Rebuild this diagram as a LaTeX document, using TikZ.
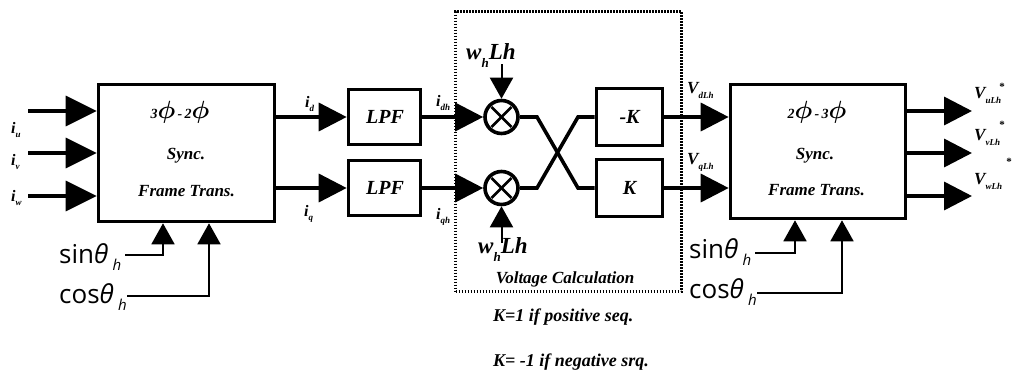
\documentclass[tikz,border=0pt]{standalone}
\usepackage{fontspec}
\setmainfont{Liberation Serif}
\newfontfamily\sansf{Open Sans}
\usepackage{bm}
\usetikzlibrary{arrows.meta,calc}
\newcommand{\sbx}[1]{\raisebox{-0.3em}{\fontsize{9}{9}\selectfont #1}}
\newcommand{\wsb}[1]{\raisebox{-0.35em}{\fontsize{13}{13}\selectfont #1}}
\newcommand{\thh}{\raisebox{-7pt}{\fontsize{15}{15}\selectfont\textit{h}}}
\begin{document}
\begin{tikzpicture}[x=1pt,y=-1pt,
  thk/.style={line width=3.6pt},
  thn/.style={line width=1.8pt},
  bigarr/.style={-{Triangle[length=31pt,width=30pt]}},
  midarr/.style={-{Triangle[length=28pt,width=28pt]}},
  smarr/.style={-{Triangle[length=21pt,width=23pt]}},
  blk/.style={draw,line width=3.6pt,fill=white,inner sep=0pt},
  lbl/.style={font=\bfseries\itshape\fontsize{16}{16}\selectfont,inner sep=0pt},
  vlbl/.style={font=\bfseries\itshape\fontsize{17}{17}\selectfont,inner sep=0pt},
  boxtxt/.style={font=\bfseries\itshape\fontsize{17}{17}\selectfont,inner sep=0pt},
  bigtxt/.style={font=\bfseries\itshape\fontsize{20}{20}\selectfont,inner sep=0pt},
  wtxt/.style={font=\bfseries\itshape\fontsize{23}{23}\selectfont,inner sep=0pt},
  notetxt/.style={font=\bfseries\itshape\fontsize{18}{18}\selectfont,inner sep=0pt},
  trig/.style={font=\sansf\fontsize{26}{26}\selectfont,inner sep=0pt},
  star/.style={font=\bfseries\fontsize{11}{11}\selectfont,inner sep=0pt}
]
\useasboundingbox (0,0) rectangle (1013,373);

% dotted voltage calculation frame
\node[draw,line width=2.6pt,dash pattern=on 1.6pt off 1.4pt,minimum width=226pt,minimum height=280pt,inner sep=0pt] (VC) at (568.5,151.5) {};
\node[boxtxt,anchor=base] (VCt) at (565,283) {Voltage Calculation};

% blocks
\node[blk,minimum width=176pt,minimum height=137pt] (T1) at (186.5,153) {};
\node[blk,minimum width=175pt,minimum height=134pt] (T2) at (818,151.5) {};
\node[blk,minimum width=72pt,minimum height=55pt] (LPF1) at (384.5,117) {};
\node[blk,minimum width=72pt,minimum height=55pt] (LPF2) at (384.5,188) {};
\node[blk,minimum width=66pt,minimum height=57pt] (K1) at (629.5,117) {};
\node[blk,minimum width=66pt,minimum height=57pt] (K2) at (629.5,188) {};
\node[bigtxt] (LPF1t) at (385,117) {LPF};
\node[bigtxt] (LPF2t) at (385,188) {LPF};
\node[bigtxt] (K1t) at (629.5,117) {-K};
\node[bigtxt] (K2t) at (629.5,188) {K};

% multipliers
\node[circle,draw,thk,fill=white,minimum size=33pt,inner sep=0pt] (M1) at (501.5,117) {};
\node[circle,draw,thk,fill=white,minimum size=33pt,inner sep=0pt] (M2) at (501.5,188) {};
\draw[line width=2.6pt] (M1.center) ++(45:14) -- ++(225:28);
\draw[line width=2.6pt] (M1.center) ++(135:14) -- ++(315:28);
\draw[line width=2.6pt] (M2.center) ++(45:14) -- ++(225:28);
\draw[line width=2.6pt] (M2.center) ++(135:14) -- ++(315:28);

% texts inside transform blocks
\node[anchor=base,inner sep=0pt] (T1a) at (180,118) {\bfseries\itshape{\fontsize{14}{14}\selectfont 3}{\fontsize{30}{30}\selectfont$\bm{\phi}$}{\fontsize{14}{14}\selectfont\,-\,2}{\fontsize{30}{30}\selectfont$\bm{\phi}$}};
\node[boxtxt,anchor=base] (T1b) at (186,159) {Sync.};
\node[boxtxt,anchor=base] (T1c) at (186.5,196) {Frame Trans.};
\node[anchor=base,inner sep=0pt] (T2a) at (817,118) {\bfseries\itshape{\fontsize{14}{14}\selectfont 2}{\fontsize{30}{30}\selectfont$\bm{\phi}$}{\fontsize{14}{14}\selectfont\,-\,3}{\fontsize{30}{30}\selectfont$\bm{\phi}$}};
\node[boxtxt,anchor=base] (T2b) at (815,159) {Sync.};
\node[boxtxt,anchor=base] (T2c) at (816.5,195) {Frame Trans.};

% inputs
\coordinate (a1) at (28,111);
\coordinate (a2) at (28,153);
\coordinate (a3) at (28,196);
\draw[thk,bigarr] (a1) -- (a1 -| T1.west);
\draw[thk,bigarr] (a2) -- (a2 -| T1.west);
\draw[thk,bigarr] (a3) -- (a3 -| T1.west);
\node[lbl,anchor=base west] (liu) at (11,133) {i\sbx{u}};
\node[lbl,anchor=base west] (liv) at (11,165) {i\sbx{v}};
\node[lbl,anchor=base west] (liw) at (11,201) {i\sbx{w}};

% T1 -> LPF
\draw[thk,midarr] (LPF1 -| T1.east) -- (LPF1.west);
\draw[thk,midarr] (LPF2 -| T1.east) -- (LPF2.west);
\node[lbl,anchor=base west] (lid) at (305,107) {i\sbx{d}};
\node[lbl,anchor=base west] (liq) at (304,216) {i\sbx{q}};

% LPF -> multipliers
\draw[thk,midarr] (LPF1.east) -- (M1.west);
\draw[thk,midarr] (LPF2.east) -- (M2.west);
\node[lbl,anchor=base west] (lidh) at (436,106) {i\sbx{dh}};
\node[lbl,anchor=base west] (liqh) at (436,219) {i\sbx{qh}};

% w_h Lh inputs
\node[wtxt,anchor=base west] (wt) at (466,59) {w\wsb{h}Lh};
\node[wtxt,anchor=base west] (wb) at (478,253) {w\wsb{h}Lh};
\coordinate (wt0) at (501.5,64);
\coordinate (wb0) at (501.5,243);
\draw[line width=2pt,smarr] (wt0) -- (M1.north);
\draw[line width=2pt,smarr] (wb0) -- (M2.south);

% crossing
\coordinate (x1) at (537,117);
\coordinate (x2) at (578,188);
\coordinate (x3) at (537,188);
\coordinate (x4) at (578,117);
\draw[thk,line join=miter] (M1.east) -- (x1) -- (x2) -- (K2.west);
\draw[thk,line join=miter] (M2.east) -- (x3) -- (x4) -- (K1.west);

% K -> T2
\draw[thk,midarr] (K1.east) -- (K1 -| T2.west);
\draw[thk,midarr] (K2.east) -- (K2 -| T2.west);
\node[vlbl,anchor=base west] (lvd) at (687,93) {V\sbx{dLh}};
\node[vlbl,anchor=base west] (lvq) at (687,164) {V\sbx{qLh}};

% outputs
\coordinate (o1) at (972,111);
\coordinate (o2) at (972,153);
\coordinate (o3) at (972,196);
\draw[thk,midarr] (o1 -| T2.east) -- (o1);
\draw[thk,midarr] (o2 -| T2.east) -- (o2);
\draw[thk,midarr] (o3 -| T2.east) -- (o3);
\node[vlbl,anchor=base west] (lvu) at (974,98) {V\sbx{uLh}};
\node[vlbl,anchor=base west] (lvv) at (974,140) {V\sbx{vLh}};
\node[vlbl,anchor=base west] (lvw) at (974,184) {V\sbx{wLh}};
\node[star] (su) at (1002,87) {*};
\node[star] (sv) at (1002,125) {*};
\node[star] (sw) at (1009,162) {*};

% sin / cos inputs left
\node[trig,anchor=base west] (sinL) at (59,263) {sin\textit{θ}\,\thh};
\node[trig,anchor=base west] (cosL) at (59,303) {cos\textit{θ}\,\thh};
\coordinate (sL) at (125,255);
\coordinate (cL) at (127,296);
\draw[thn,smarr] (sL) -| ([xshift=-23.5pt]T1.south);
\draw[thn,smarr] (cL) -| ([xshift=22.5pt]T1.south);

% sin / cos inputs right
\node[trig,anchor=base west] (sinR) at (689,258) {sin\textit{θ}\,\thh};
\node[trig,anchor=base west] (cosR) at (689,298) {cos\textit{θ}\,\thh};
\coordinate (sR) at (755,253);
\coordinate (cR) at (757,293);
\draw[thn,smarr] (sR) -| ([xshift=-23pt]T2.south);
\draw[thn,smarr] (cR) -| ([xshift=24pt]T2.south);

% notes
\node[notetxt,anchor=base west] (n1) at (493,321) {K=1 if positive seq.};
\node[notetxt,anchor=base west] (n2) at (493,366) {K= -1 if negative srq.};
\end{tikzpicture}
\end{document}
